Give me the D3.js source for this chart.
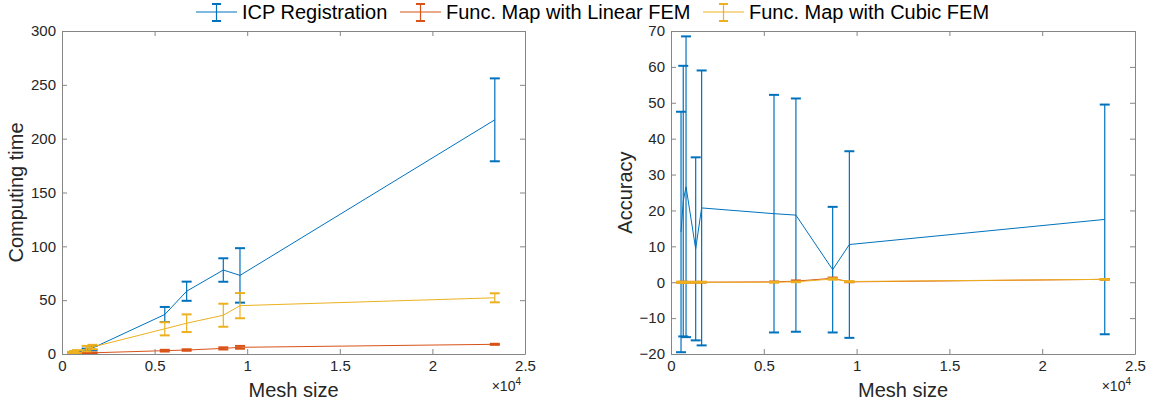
<!DOCTYPE html>
<html>
<head>
<meta charset="utf-8">
<script src="https://cdn.jsdelivr.net/npm/d3@7"></script>
<style>
	body { margin: 0; background: #fff; }
	svg { font-family: 'Liberation Sans', Arial, Helvetica, sans-serif; }
	.tick text { fill: #262626; }
</style>
</head>
<body>
<script>
'use strict';

// mesh sizes (shared by both panels)
const meshSize = [540, 660, 810, 1330, 1650, 5550, 6730, 8710, 9610, 23370];

// computing time, mean and half error bar
const timeIcp        = [0.8, 1.2, 1.6, 3.5, 5.5, 36.7, 58.3, 78, 73, 217.5];
const timeIcpErr     = [0.5, 0.6, 0.8, 1.5, 2, 7, 8.9, 10.9, 25.3, 38.5];
const timeLinear     = [0.3, 0.4, 0.5, 0.9, 1.1, 3.1, 3.7, 5.2, 6.2, 9];
const timeLinearErr  = [0.1, 0.1, 0.2, 0.3, 0.3, 0.8, 0.7, 1, 1.3, 0.5];
const timeCubic      = [1.2, 1.8, 2.4, 5.0, 6.5, 23.4, 28.6, 36, 44.9, 52.2];
const timeCubicErr   = [0.8, 1, 1.2, 2.5, 2, 6.1, 8.2, 10.7, 11.7, 4.2];

// accuracy, mean and half error bar
const accIcp         = [14, 22.6, 26.6, 9.3, 20.7, 19.1, 18.7, 3.5, 10.5, 17.5];
const accIcpErr      = [33.5, 37.7, 41.9, 25.5, 38.3, 33.1, 32.5, 17.5, 26, 32];
const accLinear      = [0, 0, 0, 0, 0, 0.1, 0.3, 1.1, 0.1, 0.8];
const accLinearErr   = [0.1, 0.1, 0.1, 0.1, 0.1, 0.1, 0.2, 0.2, 0.1, 0.1];
const accCubic       = [0, 0, 0, 0, 0, 0, 0.1, 0.9, 0.2, 0.8];
const accCubicErr    = [0.1, 0.1, 0.1, 0.1, 0.1, 0.1, 0.1, 0.2, 0.1, 0.1];

const seriesNames  = ['ICP Registration', 'Func. Map with Linear FEM', 'Func. Map with Cubic FEM'];
const seriesColors = ['#0072BD', '#D95319', '#EDB120'];

const xTicks     = [0, 5000, 10000, 15000, 20000, 25000];
const timeTicks  = [0, 50, 100, 150, 200, 250, 300];
const accTicks   = [-20, -10, 0, 10, 20, 30, 40, 50, 60, 70];

const DIMENSIONS = {
	'canvas': { 'width': 1153, 'height': 406 },
	'left'  : { 'x0': 62, 'x1': 525, 'y0': 31, 'y1': 354 },
	'right' : { 'x0': 671, 'x1': 1135, 'y0': 31, 'y1': 354 }
};

let svg = d3.select('body').append('svg')
	.attr('width', DIMENSIONS.canvas.width)
	.attr('height', DIMENSIONS.canvas.height);

function drawPanel(box, yDomain, yTicks, yLabel, series) {
	let xScale = d3.scaleLinear().domain([0, 25000]).range([box.x0, box.x1]);
	let yScale = d3.scaleLinear().domain(yDomain).range([box.y1, box.y0]);
	let g = svg.append('g');

	// error bars + lines, drawn in series order (cubic on top)
	series.forEach((s, k) => {
		let color = seriesColors[k];
		let pts = meshSize.map((m, i) => ({ x: m, y: s.mean[i], e: s.err[i] }));
		let line = d3.line().x((d) => xScale(d.x)).y((d) => yScale(d.y));
		g.append('path').datum(pts)
			.attr('d', line).attr('fill', 'none')
			.attr('stroke', color).attr('stroke-width', 1);
		let bars = g.selectAll(null).data(pts).enter().append('g');
		bars.append('line')
			.attr('x1', (d) => xScale(d.x)).attr('x2', (d) => xScale(d.x))
			.attr('y1', (d) => yScale(d.y - d.e)).attr('y2', (d) => yScale(d.y + d.e))
			.attr('stroke', color).attr('stroke-width', 1.2);
		[-1, 1].forEach((sgn) => {
			bars.append('line')
				.attr('x1', (d) => xScale(d.x) - 5).attr('x2', (d) => xScale(d.x) + 5)
				.attr('y1', (d) => yScale(d.y + sgn * d.e)).attr('y2', (d) => yScale(d.y + sgn * d.e))
				.attr('stroke', color).attr('stroke-width', 2);
		});
	});

	// axes with inward ticks on all four sides
	let fmtX = (d) => d3.format('~g')(d / 10000);
	let axes = [
		[d3.axisBottom(xScale).tickValues(xTicks).tickFormat(fmtX), 'translate(0,' + box.y1 + ')'],
		[d3.axisTop(xScale).tickValues(xTicks).tickFormat(''), 'translate(0,' + box.y0 + ')'],
		[d3.axisLeft(yScale).tickValues(yTicks), 'translate(' + box.x0 + ',0)'],
		[d3.axisRight(yScale).tickValues(yTicks).tickFormat(''), 'translate(' + box.x1 + ',0)']
	];
	axes.forEach((a) => {
		let ax = svg.append('g')
			.attr('transform', a[1])
			.call(a[0].tickSizeInner(-5).tickSizeOuter(0).tickPadding(6));
		ax.select('.domain').attr('stroke', '#868686');
		ax.selectAll('.tick line').attr('stroke', '#868686');
		ax.selectAll('.tick text').attr('font-size', 15).attr('font-family', null);
	});

	svg.append('text')
		.attr('x', (box.x0 + box.x1) / 2).attr('y', 397)
		.attr('text-anchor', 'middle').attr('font-size', 20).attr('fill', '#262626')
		.text('Mesh size');
	let xPow = svg.append('text')
		.attr('x', box.x1 - 4).attr('y', 391)
		.attr('text-anchor', 'end').attr('font-size', 14).attr('fill', '#262626');
	xPow.append('tspan').text('\u00d710');
	xPow.append('tspan').attr('dy', -6).attr('font-size', 10).text('4');

	svg.append('text')
		.attr('transform', 'translate(' + (box.x0 - 39) + ',' + ((box.y0 + box.y1) / 2) + ') rotate(-90)')
		.attr('text-anchor', 'middle').attr('font-size', 20).attr('fill', '#262626')
		.text(yLabel);
}

drawPanel(DIMENSIONS.left, [0, 300], timeTicks, 'Computing time', [
	{ mean: timeIcp, err: timeIcpErr },
	{ mean: timeLinear, err: timeLinearErr },
	{ mean: timeCubic, err: timeCubicErr }
]);
drawPanel(DIMENSIONS.right, [-20, 70], accTicks, 'Accuracy', [
	{ mean: accIcp, err: accIcpErr },
	{ mean: accLinear, err: accLinearErr },
	{ mean: accCubic, err: accCubicErr }
]);

// horizontal legend across the top
const legendX = [196, 400, 703];
let legend = svg.append('g').attr('id', 'legend');
seriesNames.forEach((name, k) => {
	let item = legend.append('g').attr('transform', 'translate(' + legendX[k] + ', 12)');
	let color = seriesColors[k];
	item.append('line').attr('x1', 0).attr('x2', 41).attr('y1', 0).attr('y2', 0).attr('stroke', color).attr('stroke-width', 1);
	item.append('line').attr('x1', 20.5).attr('x2', 20.5).attr('y1', -8).attr('y2', 9).attr('stroke', color).attr('stroke-width', 1.2);
	item.append('line').attr('x1', 16).attr('x2', 25).attr('y1', -8).attr('y2', -8).attr('stroke', color).attr('stroke-width', 2);
	item.append('line').attr('x1', 16).attr('x2', 25).attr('y1', 9).attr('y2', 9).attr('stroke', color).attr('stroke-width', 2);
	item.append('text').attr('x', 46).attr('y', 7).attr('font-size', 20).attr('fill', '#000').text(name);
});
</script>
</body>
</html>
